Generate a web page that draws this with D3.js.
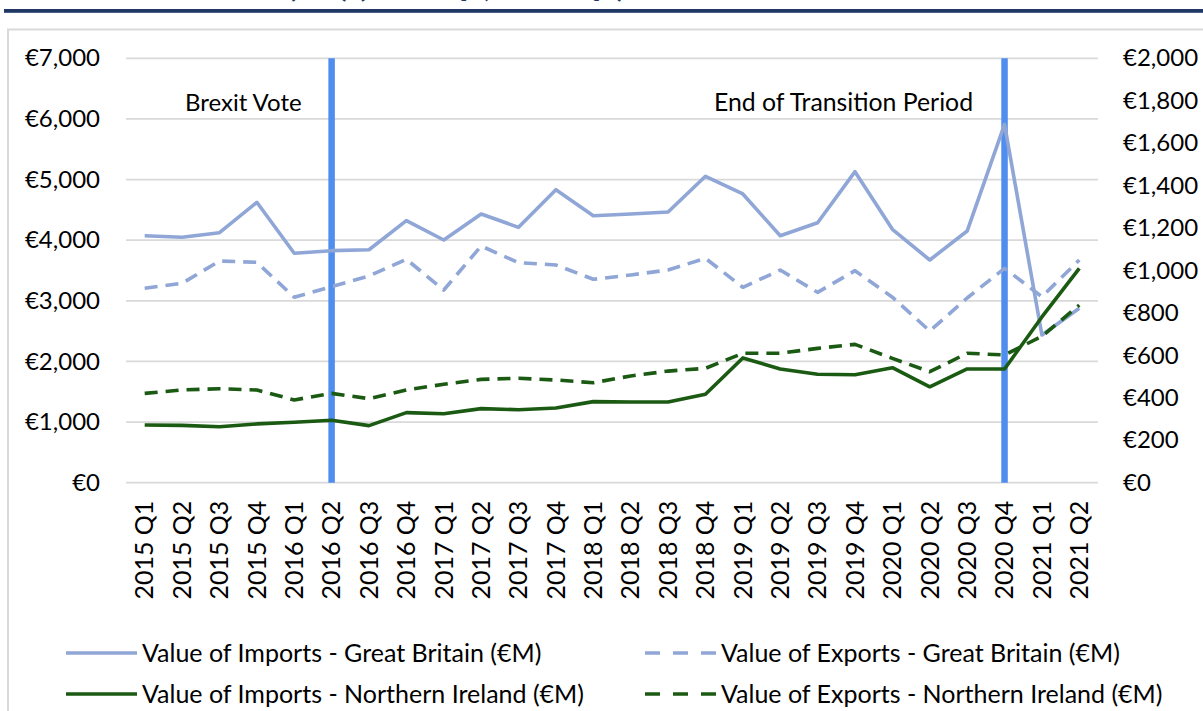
<!DOCTYPE html>
<html>
<head>
<meta charset="utf-8">
<script src="https://cdn.jsdelivr.net/npm/d3@7"></script>
<style>
  body { margin: 0; background: #fff; }
  svg { display: block; font-family: Lato, "Open Sans", sans-serif; }
</style>
</head>
<body>
<div id="chart"></div>
<script>
// quarters on the x axis
var quarters = ['2015 Q1','2015 Q2','2015 Q3','2015 Q4','2016 Q1','2016 Q2','2016 Q3','2016 Q4',
  '2017 Q1','2017 Q2','2017 Q3','2017 Q4','2018 Q1','2018 Q2','2018 Q3','2018 Q4',
  '2019 Q1','2019 Q2','2019 Q3','2019 Q4','2020 Q1','2020 Q2','2020 Q3','2020 Q4','2021 Q1','2021 Q2'];

// Great Britain, left axis (EUR M)
var importsGB = [4074,4048,4124,4625,3784,3827,3843,4322,4003,4432,4212,4833,4404,4432,4465,5054,
  4762,4074,4288,5130,4179,3673,4151,5911,2436,2876];
var exportsGB = [3206,3289,3657,3635,3058,3233,3409,3685,3178,3904,3629,3591,3355,3426,3508,3701,
  3223,3508,3140,3497,3060,2502,3046,3536,3068,3673];

// Northern Ireland, right axis (EUR M)
var importsNI = [272,270,264,277,285,294,269,330,325,349,344,352,382,380,380,417,
  588,536,511,509,542,452,536,536,781,1010];
var exportsNI = [421,437,443,437,390,421,396,437,464,487,492,484,471,503,526,539,
  610,610,633,652,586,523,610,602,690,837];

var leftTicks = [0,1000,2000,3000,4000,5000,6000,7000];
var rightTicks = [0,200,400,600,800,1000,1200,1400,1600,1800,2000];

var events = [
  { quarter: '2016 Q2', label: 'Brexit Vote', x: 185, size: 24 },
  { quarter: '2020 Q4', label: 'End of Transition Period', x: 714, size: 24.8 }
];

var legendItems = [
  { name: 'Value of Imports - Great Britain (€M)', color: '#8FA6D6', dash: null },
  { name: 'Value of Exports - Great Britain (€M)', color: '#8FA6D6', dash: '13,8' },
  { name: 'Value of Imports - Northern Ireland (€M)', color: '#1B5A12', dash: null },
  { name: 'Value of Exports - Northern Ireland (€M)', color: '#1B5A12', dash: '13,8' }
];

var width = 1203, height = 711;
var plotL = 126, plotR = 1098, plotT = 58.3, plotB = 482.7;
var fontStack = 'Lato, "Open Sans", sans-serif';

var svg = d3.select('#chart').append('svg')
  .attr('width', width)
  .attr('height', height);

// cut-off page title + rule
svg.append('text')
  .attr('x', 625).attr('y', -3)
  .attr('text-anchor', 'end')
  .style('font-size', '30px')
  .style('font-weight', 'bold')
  .style('fill', '#1F3864')
  .text('Value of Trade (€M) (2015 Q1, 2021 Q2)');
svg.append('rect')
  .attr('x', 4).attr('y', 9)
  .attr('width', width).attr('height', 3.8)
  .attr('fill', '#1F3864');

// chart frame
svg.append('rect')
  .attr('x', 8).attr('y', 29.5)
  .attr('width', width + 10).attr('height', height)
  .attr('fill', 'none')
  .attr('stroke', '#D9D9D9')
  .attr('stroke-width', 2);

var x = d3.scaleBand().domain(quarters).range([plotL, plotR]);
var yL = d3.scaleLinear().domain([0, 7000]).range([plotB, plotT]);
var yR = d3.scaleLinear().domain([0, 2000]).range([plotB, plotT]);
var cx = function (q) { return x(q) + x.bandwidth() / 2; };

// gridlines
svg.append('g').selectAll('line')
  .data(leftTicks).enter()
  .append('line')
  .attr('x1', plotL).attr('x2', plotR)
  .attr('y1', function (d) { return yL(d); })
  .attr('y2', function (d) { return yL(d); })
  .attr('stroke', '#D9D9D9')
  .attr('stroke-width', 1.8);

var euro = function (d) { return '€' + d3.format(',')(d); };

var axL = svg.append('g')
  .attr('transform', 'translate(' + (plotL - 26) + ',0)')
  .call(d3.axisLeft(yL).tickValues(leftTicks).tickFormat(euro).tickSize(0).tickPadding(0));
var axR = svg.append('g')
  .attr('transform', 'translate(' + (plotR + 25) + ',0)')
  .call(d3.axisRight(yR).tickValues(rightTicks).tickFormat(euro).tickSize(0).tickPadding(0));
[axL, axR].forEach(function (a) {
  a.select('.domain').remove();
  a.selectAll('text').style('font-size', '24px').style('fill', '#000')
    .style('font-family', fontStack);
});

// x labels, rotated
var axX = svg.append('g')
  .attr('transform', 'translate(0,' + (plotB + 18) + ')')
  .call(d3.axisBottom(x).tickSize(0).tickPadding(0));
axX.select('.domain').remove();
axX.selectAll('text')
  .attr('transform', 'rotate(-90)')
  .attr('x', 0).attr('y', 0).attr('dy', '0.35em')
  .attr('text-anchor', 'end')
  .style('font-size', '25px').style('fill', '#000')
  .style('font-family', fontStack);

// event markers
svg.append('g').selectAll('line')
  .data(events).enter()
  .append('line')
  .attr('x1', function (d) { return cx(d.quarter); })
  .attr('x2', function (d) { return cx(d.quarter); })
  .attr('y1', plotT).attr('y2', plotB)
  .attr('stroke', '#4F8DEE')
  .attr('stroke-width', 6.5);
svg.append('g').selectAll('text')
  .data(events).enter()
  .append('text')
  .attr('x', function (d) { return d.x; })
  .attr('y', 111)
  .style('font-size', function (d) { return d.size + 'px'; })
  .text(function (d) { return d.label; });

// series
var series = [
  { values: importsGB, y: yL, style: legendItems[0] },
  { values: exportsGB, y: yL, style: legendItems[1] },
  { values: importsNI, y: yR, style: legendItems[2] },
  { values: exportsNI, y: yR, style: legendItems[3] }
];
series.forEach(function (s) {
  var line = d3.line()
    .x(function (d, i) { return cx(quarters[i]); })
    .y(function (d) { return s.y(d); });
  svg.append('path')
    .datum(s.values)
    .attr('d', line)
    .attr('fill', 'none')
    .attr('stroke', s.style.color)
    .attr('stroke-width', 3.6)
    .attr('stroke-linejoin', 'round')
    .attr('stroke-dasharray', s.style.dash);
});

// legend
var legend = svg.append('g').selectAll('g')
  .data(legendItems).enter()
  .append('g')
  .attr('transform', function (d, i) {
    return 'translate(' + (i % 2 === 0 ? 66 : 645) + ',' + (i < 2 ? 653 : 694) + ')';
  });
legend.append('line')
  .attr('x1', 0).attr('x2', 71)
  .attr('stroke', function (d) { return d.color; })
  .attr('stroke-width', 3.6)
  .attr('stroke-dasharray', function (d) { return d.dash ? '15,13' : null; });
legend.append('text')
  .attr('x', 76).attr('dy', '0.35em')
  .style('font-size', '25px')
  .text(function (d) { return d.name; });
</script>
</body>
</html>
